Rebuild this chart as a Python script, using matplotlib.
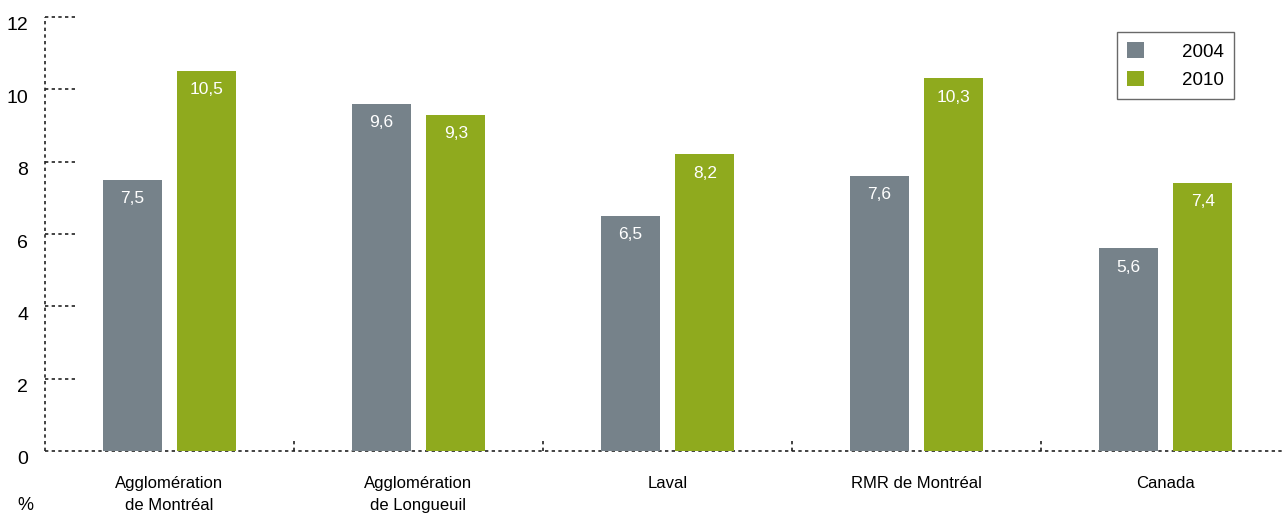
import numpy as np
import matplotlib.pyplot as plt
from matplotlib.transforms import ScaledTranslation

plt.rcParams['font.family'] = ['Liberation Sans', 'DejaVu Sans']

categories = ['Agglomération\nde Montréal', 'Agglomération\nde Longueuil', 'Laval',
              'RMR de Montréal', 'Canada']
years = ['2004', '2010']
v2004 = [7.5, 9.6, 6.5, 7.6, 5.6]
v2010 = [10.5, 9.3, 8.2, 10.3, 7.4]
yticks = [0, 2, 4, 6, 8, 10, 12]

gris = '#76828a'
vert = '#8faa1e'

fig = plt.figure(figsize=(12.84, 5.14), dpi=100)
ax = fig.add_axes([45 / 1284, 1 - 451 / 514, 1245 / 1284, 434 / 514])

x = np.arange(len(categories))
w = 0.237
off = 0.15
b1 = ax.bar(x - off, v2004, w, color=gris, label=years[0], zorder=3)
b2 = ax.bar(x + off, v2010, w, color=vert, label=years[1], zorder=3)

for bars, vals in [(b1, v2004), (b2, v2010)]:
    for b, v in zip(bars, vals):
        ax.annotate(f'{v:.1f}'.replace('.', ','), (b.get_x() + b.get_width() / 2, v),
                    xytext=(0, -8), textcoords='offset points', ha='center', va='top',
                    color='white', fontsize=12.5, zorder=4)

ax.set_xlim(-0.5, len(categories) - 0.5)
ax.set_ylim(0, 12)

for s in ax.spines.values():
    s.set_visible(False)

dot = dict(color='#222222', lw=1.2, linestyle=(0, (2, 2)), clip_on=False, zorder=2)
ax.plot([0, 0], [0, 12], transform=ax.get_yaxis_transform(), **dot)
ax.plot([0, 1], [0, 0], transform=ax.transAxes, **dot)
for t in yticks[1:]:
    ax.plot([0, 30 / 1245], [t, t], transform=ax.get_yaxis_transform(), **dot)
for bx in x[:-1] + 0.5:
    ax.plot([bx, bx], [0, 10 / 434], transform=ax.get_xaxis_transform(), **dot)

ax.set_yticks(yticks)
ax.set_yticklabels([str(t) for t in yticks], fontsize=14)
ax.tick_params(axis='y', length=0, pad=12)
shift = ScaledTranslation(0, -7 / 100, fig.dpi_scale_trans)
for lab in ax.get_yticklabels():
    lab.set_transform(lab.get_transform() + shift)

ax.set_xticks(x)
ax.set_xticklabels(categories, fontsize=12, linespacing=1.55)
ax.tick_params(axis='x', length=0, pad=18)

fig.text(25 / 1284, 1 - 505 / 514, '%', fontsize=13, ha='center', va='center')

leg = ax.legend(loc='upper right', bbox_to_anchor=(1234 / 1284, 1 - 32 / 514),
                bbox_transform=fig.transFigure, fontsize=13.5, frameon=True,
                fancybox=False, handlelength=0.9, handleheight=0.9, borderaxespad=0,
                handletextpad=2.0, borderpad=0.55, labelspacing=0.55)
leg.get_frame().set_edgecolor('#444444')
leg.get_frame().set_linewidth(1.0)

fig.savefig('out.png', dpi=100)
